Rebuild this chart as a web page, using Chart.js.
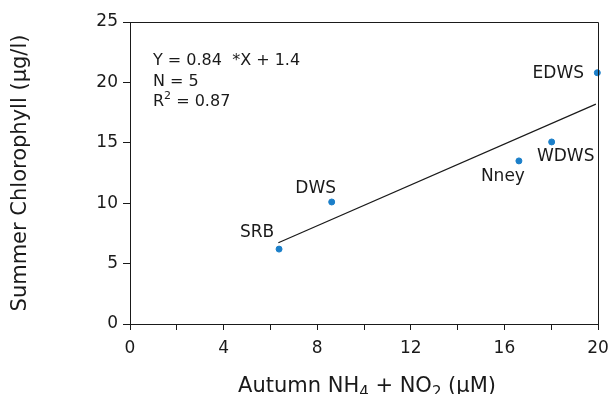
<!DOCTYPE html>
<html>
<head>
<meta charset="utf-8">
<script src="https://cdn.jsdelivr.net/npm/chart.js@4.4.0/dist/chart.umd.min.js"></script>
<style>
  html, body { margin: 0; padding: 0; background: #fff; }
  #wrap { width: 609px; height: 394px; }
</style>
</head>
<body>
<div id="wrap"><canvas id="chart" width="609" height="394"></canvas></div>
<script>
// station names and values
const stations = ["SRB", "DWS", "Nney", "WDWS", "EDWS"];
const nitrogen = [6.37, 8.62, 16.62, 18.02, 19.97];   // autumn NH4 + NO2 (uM)
const chlorophyll = [6.2, 10.1, 13.5, 15.07, 20.8];   // summer chlorophyll (ug/l)

// fitted line end points
const fitX = [6.34, 19.91];
const fitY = [6.73, 18.2];

// tick labels
const xTickLabels = [0, 4, 8, 12, 16, 20];
const yTickLabels = [0, 5, 10, 15, 20, 25];

const FONT = "'DejaVu Sans', sans-serif";
const INK = "#1a1a1a";

// label offsets from each point, in px
const labelOffsets = {
  SRB: [-22, -17],
  DWS: [-16, -13],
  Nney: [-16, 16],
  WDWS: [14, 15],
  EDWS: [-39, 1],
};

const extras = {
  id: "extras",
  afterDraw(chart) {
    const { ctx, chartArea } = chart;
    ctx.save();

    // top and right frame
    ctx.strokeStyle = INK;
    ctx.lineWidth = 1;
    ctx.beginPath();
    ctx.moveTo(Math.round(chartArea.left) + 0.5, Math.round(chartArea.top) + 0.5);
    ctx.lineTo(Math.round(chartArea.right) + 0.5, Math.round(chartArea.top) + 0.5);
    ctx.lineTo(Math.round(chartArea.right) + 0.5, Math.round(chartArea.bottom) + 0.5);
    ctx.stroke();

    // station labels
    const meta = chart.getDatasetMeta(1);
    ctx.fillStyle = INK;
    ctx.font = "17px " + FONT;
    ctx.textAlign = "center";
    ctx.textBaseline = "middle";
    meta.data.forEach((pt, i) => {
      const off = labelOffsets[stations[i]];
      ctx.fillText(stations[i], pt.x + off[0], pt.y + off[1]);
    });

    // regression text
    ctx.textAlign = "left";
    ctx.textBaseline = "alphabetic";
    ctx.font = "16px " + FONT;
    ctx.fillText("Y = 0.84  *X + 1.4", 153, 65);
    ctx.fillText("N = 5", 153, 86);
    ctx.fillText("R", 153, 106);
    let w = ctx.measureText("R").width;
    ctx.font = "11px " + FONT;
    ctx.fillText("2", 153 + w, 99);
    let w2 = ctx.measureText("2").width;
    ctx.font = "16px " + FONT;
    ctx.fillText(" = 0.87", 153 + w + w2, 106);

    // x axis title with subscripts
    const parts = [
      ["Autumn NH", 21, 0],
      ["4", 15, 5],
      [" + NO", 21, 0],
      ["2", 15, 5],
      [" (\u00b5M)", 21, 0],
    ];
    let total = 0;
    parts.forEach((p) => {
      ctx.font = p[1] + "px " + FONT;
      total += ctx.measureText(p[0]).width;
    });
    let x = 367 - total / 2;
    parts.forEach((p) => {
      ctx.font = p[1] + "px " + FONT;
      ctx.fillText(p[0], x, 392 + p[2]);
      x += ctx.measureText(p[0]).width;
    });

    ctx.restore();
  },
};

new Chart(document.getElementById("chart"), {
  type: "scatter",
  data: {
    datasets: [
      {
        type: "line",
        data: fitX.map((x, i) => ({ x, y: fitY[i] })),
        borderColor: INK,
        borderWidth: 1.2,
        pointRadius: 0,
        fill: false,
        tension: 0,
      },
      {
        data: nitrogen.map((x, i) => ({ x, y: chlorophyll[i] })),
        backgroundColor: "#1b7fc9",
        borderColor: "#1b7fc9",
        pointRadius: 3,
        pointHoverRadius: 3,
        clip: false,
      },
    ],
  },
  options: {
    responsive: false,
    animation: false,
    layout: { padding: { top: 22, right: 11, left: 0, bottom: 0 } },
    plugins: {
      legend: { display: false },
      tooltip: { enabled: false },
    },
    scales: {
      x: {
        type: "linear",
        min: 0,
        max: 20,
        afterFit: (s) => {
          s.height = 70;
          s.paddingLeft = 0;
          s.paddingRight = 0;
        },
        border: { display: true, color: INK, width: 1 },
        grid: { drawOnChartArea: false, drawTicks: true, tickLength: 6, color: INK },
        ticks: {
          stepSize: 2,
          autoSkip: false,
          maxRotation: 0,
          padding: 8,
          color: INK,
          font: { family: FONT, size: 17 },
          callback: (v) => (xTickLabels.includes(v) ? v : ""),
        },
      },
      y: {
        min: 0,
        max: 25,
        afterFit: (s) => {
          s.width = 130;
          s.paddingTop = 0;
          s.paddingBottom = 0;
        },
        border: { display: true, color: INK, width: 1 },
        grid: { drawOnChartArea: false, drawTicks: true, tickLength: 7, color: INK },
        ticks: {
          stepSize: 5,
          padding: 5,
          color: INK,
          font: { family: FONT, size: 17 },
          callback: (v) => (yTickLabels.includes(v) ? v : ""),
        },
        title: {
          display: true,
          text: "Summer Chlorophyll (\u00b5g/l)",
          color: INK,
          font: { family: FONT, size: 21, weight: "normal" },
          padding: { top: 8, bottom: 0 },
        },
      },
    },
  },
  plugins: [extras],
});
</script>
</body>
</html>
